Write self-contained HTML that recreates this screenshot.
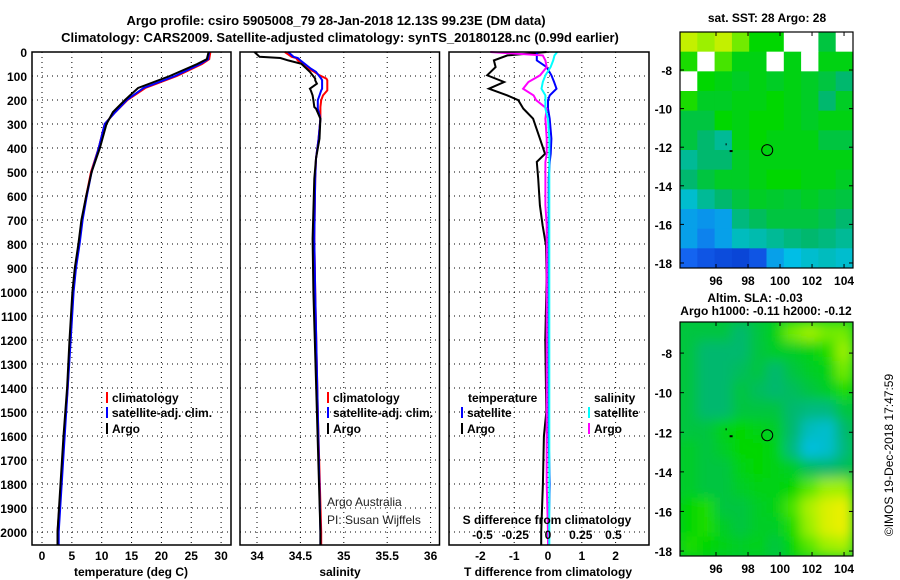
<!DOCTYPE html>
<html><head><meta charset="utf-8"><style>
body{margin:0;background:#fff;}
svg{display:block;font-family:"Liberation Sans",Arial,sans-serif;}
</style></head><body>
<svg id="c" width="900" height="580" viewBox="0 0 900 580"></svg>
<script>
// ---------- data ----------
const depthTicks=[0,100,200,300,400,500,600,700,800,900,1000,1100,1200,1300,1400,1500,1600,1700,1800,1900,2000];
const tempTicks=[0,5,10,15,20,25,30];
const salTicks=[34,34.5,35,35.5,36];
const salTickLabels=["34","34.5","35","35.5","36"];
const tdTicks=[-2,-1,0,1,2];
const sdTicks=[-0.5,-0.25,0,0.25,0.5];
const sdTickLabels=["-0.5","-0.25","0","0.25","0.5"];

const tDepth=[0,30,50,100,150,200,250,300,400,500,600,700,800,900,1000,1200,1400,1600,1800,2000,2055];
const tArgo=[27.9,27.6,26,21.4,16.1,13.9,11.9,10.8,9.7,8.3,7.4,6.6,6.1,5.5,5.1,4.6,4.2,3.6,3.1,2.6,2.6];
const tClim=[28.2,28.0,26.8,22.6,17.3,14.3,12.3,10.5,9.5,8.2,7.4,6.7,6.2,5.6,5.2,4.7,4.3,3.7,3.2,2.6,2.6];
const tSat =[28.0,27.8,26.5,22.3,17.0,14.2,12.3,10.5,9.5,8.3,7.5,6.8,6.3,5.7,5.3,4.8,4.3,3.8,3.3,2.8,2.8];

const sDepth=[0,20,25,35,49,69,83,97,111,118,132,153,160,181,201,229,236,278,361,444,528,778,1000,1500,2000,2055];
const sArgo=[33.97,34.03,34.27,34.36,34.51,34.57,34.61,34.64,34.67,34.67,34.69,34.61,34.62,34.64,34.65,34.66,34.68,34.73,34.72,34.68,34.66,34.64,34.65,34.69,34.73,34.73];
const sClim=[34.32,34.40,34.45,34.47,34.52,34.59,34.66,34.72,34.80,34.81,34.81,34.81,34.81,34.76,34.74,34.73,34.73,34.73,34.71,34.68,34.67,34.66,34.67,34.70,34.74,34.74];
const sSat =[34.36,34.42,34.47,34.50,34.55,34.62,34.68,34.71,34.74,34.75,34.75,34.75,34.74,34.72,34.70,34.70,34.70,34.73,34.71,34.68,34.67,34.66,34.67,34.70,34.73,34.73];

const dDepth=[0,14,35,63,97,125,153,181,201,236,278,361,424,458,528,639,722,806,944,1200,1500,1600,1800,2000,2055];
const dtArgo=[-0.04,-1.2,-1.6,-1.55,-1.8,-1.3,-1.75,-1.2,-0.88,-0.73,-0.44,-0.24,-0.09,-0.33,-0.29,-0.24,-0.16,-0.06,-0.04,-0.08,-0.05,-0.12,-0.15,-0.2,-0.2];
const dtSat=[-0.33,-0.33,-0.33,-0.04,0.1,0.18,0.25,0.05,0.0,0.0,0.05,0.1,0.08,0.05,0.02,0.02,0.02,0.02,0.02,0.02,0.02,0.02,0.05,0.02,0.02];
const dsArgo=[-0.44,-0.04,-0.02,-0.01,-0.06,-0.15,-0.19,-0.11,-0.09,-0.01,-0.02,-0.01,-0.01,-0.02,-0.02,-0.02,-0.01,-0.01,-0.01,-0.01,-0.01,-0.01,-0.01,0,0];
const dsSat=[0.07,0.05,0.04,0.02,-0.02,-0.04,-0.05,-0.02,-0.02,-0.02,0,0.01,0.01,0.01,0.01,0.01,0.01,0.01,0.01,0.01,0.01,0.01,0.01,0.01,0.01];

const sstGrid=[
[0.85,0.8,0.85,0.75,0.62,0.62,-1,-1,0.55,-1],
[0.65,-1,0.7,0.6,0.6,-1,0.6,-1,0.6,0.6],
[-1,0.62,0.6,0.58,0.6,0.58,0.6,0.58,0.55,0.5],
[0.65,0.58,0.58,0.6,0.6,0.62,0.6,0.58,0.5,0.58],
[0.55,0.55,0.62,0.6,0.62,0.62,0.6,0.58,0.6,0.6],
[0.55,0.5,0.45,0.6,0.62,0.6,0.6,0.6,0.55,0.55],
[0.45,0.5,0.5,0.58,0.6,0.6,0.6,0.6,0.6,0.6],
[0.5,0.55,0.58,0.58,0.6,0.62,0.62,0.6,0.6,0.58],
[0.38,0.45,0.5,0.55,0.58,0.57,0.56,0.58,0.56,0.55],
[0.3,0.28,0.3,0.48,0.52,0.55,0.55,0.55,0.53,0.5],
[0.3,0.25,0.3,0.4,0.42,0.45,0.48,0.5,0.48,0.45],
[0.2,0.15,0.12,0.1,0.15,0.3,0.35,0.38,0.4,0.38]];
const slaGrid=[
[0.55,0.55,0.55,0.5,0.55,0.6,0.75,0.8,0.75,0.75],
[0.55,0.5,0.5,0.5,0.55,0.58,0.58,0.6,0.65,0.8],
[0.55,0.5,0.5,0.52,0.55,0.5,0.55,0.58,0.6,0.75],
[0.55,0.5,0.5,0.55,0.52,0.5,0.52,0.55,0.58,0.65],
[0.55,0.5,0.5,0.55,0.55,0.55,0.5,0.48,0.48,0.55],
[0.55,0.55,0.6,0.62,0.6,0.58,0.5,0.4,0.38,0.5],
[0.58,0.55,0.58,0.62,0.62,0.6,0.48,0.36,0.38,0.48],
[0.58,0.55,0.55,0.6,0.62,0.6,0.58,0.52,0.5,0.52],
[0.58,0.55,0.55,0.58,0.6,0.6,0.62,0.72,0.8,0.8],
[0.62,0.65,0.55,0.55,0.58,0.6,0.7,0.82,0.88,0.9],
[0.62,0.65,0.58,0.55,0.58,0.58,0.65,0.8,0.88,0.9],
[0.65,0.62,0.6,0.58,0.6,0.55,0.62,0.72,0.8,0.82]];
const lonTicks=[96,98,100,102,104];
const latTicks=[-8,-10,-12,-14,-16,-18];
const argoPos=[99.2,-12.15];

// ---------- helpers ----------
const NS="http://www.w3.org/2000/svg";
const svg=document.getElementById('c');
function mk(tag,at,parent){const e=document.createElementNS(NS,tag);for(const k in at)e.setAttribute(k,at[k]);(parent||svg).appendChild(e);return e;}
function txt(x,y,s,size,anchor,bold,fill){const t=mk('text',{x:x,y:y,'font-size':size,'text-anchor':anchor||'start','font-weight':bold?'bold':'normal',fill:fill||'#000'});t.textContent=s;return t;}

const Y0=52,Y1=545;
const yD=d=>Y0+d*0.24;
const xT=v=>42+v*5.97;
const xS=v=>257+(v-34)*86.8;
const xDT=v=>548+v*33.8;
const xDS=v=>548+v*131;

const panels=[[32,231,'temperature-panel'],[240,439.5,'salinity-panel'],[449,649,'difference-panel']];

function grid(px0,px1,xs){
  depthTicks.forEach(d=>{const l=mk('line',{x1:px0,x2:px1,y1:yD(d),y2:yD(d),stroke:'#000','stroke-width':1,'stroke-dasharray':'1,4'});
    
    });
  xs.forEach(x=>{const l=mk('line',{x1:x,x2:x,y1:Y0,y2:Y1,stroke:'#000','stroke-width':1,'stroke-dasharray':'1,4'});
    
    });
}
grid(32,231,tempTicks.map(xT));
grid(240,439.5,salTicks.map(xS));
grid(449,649,tdTicks.map(xDT));

function line(depths,vals,fx,color,name){
  let d='';
  depths.forEach((dp,i)=>{d+=(i?'L':'M')+fx(vals[i]).toFixed(1)+','+yD(dp).toFixed(1);});
  const p=mk('path',{d:d,fill:'none',stroke:color,'stroke-width':2});
  
  
}
line(tDepth,tClim,xT,'#f00','temp-climatology-line');
line(tDepth,tSat,xT,'#00f','temp-satellite-line');
line(tDepth,tArgo,xT,'#000','temp-argo-line');
line(sDepth,sClim,xS,'#f00','sal-climatology-line');
line(sDepth,sSat,xS,'#00f','sal-satellite-line');
line(sDepth,sArgo,xS,'#000','sal-argo-line');
line(dDepth,dtArgo,xDT,'#000','tdiff-argo-line');
line(dDepth,dtSat,xDT,'#00f','tdiff-satellite-line');
line(dDepth,dsArgo,xDS,'#f0f','sdiff-argo-line');
line(dDepth,dsSat,xDS,'#0ff','sdiff-satellite-line');

panels.forEach(p=>{const r=mk('rect',{x:p[0],y:Y0,width:p[1]-p[0],height:Y1-Y0,fill:'none',stroke:'#000','stroke-width':1.5});
  
  });

depthTicks.forEach(d=>{const t=txt(27,yD(d)+5,String(d),12,'end',true);
  
  });
tempTicks.forEach(v=>{const t=txt(xT(v),560,String(v),12,'middle',true);
  
  });
salTicks.forEach((v,i)=>{const t=txt(xS(v),560,salTickLabels[i],12,'middle',true);
  
  });
tdTicks.forEach(v=>{const t=txt(xDT(v),560,String(v),12,'middle',true);
  
  });
sdTicks.forEach((v,i)=>{const t=txt(xDS(v),539,sdTickLabels[i],12,'middle',true);
  
  });

[[131,576,'temperature (deg C)','x-axis-title-temperature'],[340,576,'salinity','x-axis-title-salinity'],[548,576,'T difference from climatology','x-axis-title-tdiff'],[547,524,'S difference from climatology','sdiff-axis-title']].forEach(a=>{
  const t=txt(a[0],a[1],a[2],12,'middle',true);
  
  });

const t1=txt(336,25,'Argo profile: csiro 5905008_79 28-Jan-2018 12.13S 99.23E (DM data)',13,'middle',true);


const t2=txt(340,42,'Climatology: CARS2009. Satellite-adjusted climatology: synTS_20180128.nc (0.99d earlier)',13,'middle',true);



function leg(x,y,color,label,name){
  mk('rect',{x:x,y:y-10,width:2,height:11,fill:color});
  const t=txt(x+6,y,label,12,'start',true);
  
  
}
leg(106,402,'#f00','climatology','legend-climatology');
leg(106,417,'#00f','satellite-adj. clim.','legend-satellite');
leg(106,433,'#000','Argo','legend-argo');
leg(327,402,'#f00','climatology','legend-sal-climatology');
leg(327,417,'#00f','satellite-adj. clim.','legend-sal-satellite');
leg(327,433,'#000','Argo','legend-sal-argo');
const lt=txt(468,402,'temperature',12,'start',true);


const ls=txt(594,402,'salinity',12,'start',true);


leg(461,417,'#00f','satellite','legend-t-satellite');
leg(461,433,'#000','Argo','legend-t-argo');
leg(588,417,'#0ff','satellite','legend-s-satellite');
leg(588,433,'#f0f','Argo','legend-s-argo');
const aa=txt(327,506,'Argo Australia',12,'start',false,'#222');


const pi=txt(327,524,'PI: Susan Wijffels',12,'start',false,'#222');



// ---------- maps ----------
function cmap(v){
  const st=[[0,[0,40,190]],[0.2,[20,100,240]],[0.35,[0,190,230]],[0.5,[0,184,110]],[0.62,[0,215,0]],[0.78,[140,240,0]],[0.9,[235,240,0]],[1,[255,200,0]]];
  for(let i=1;i<st.length;i++){if(v<=st[i][0]){const a=st[i-1],b=st[i];const f=(v-a[0])/(b[0]-a[0]);
    const c=a[1].map((q,k)=>Math.round(q+(b[1][k]-q)*f));return 'rgb('+c.join(',')+')';}}
  return 'rgb(255,200,0)';
}
function map(x0,x1,y0,y1,latTop,latBot,data,smooth,name){
  const lon0=93.75,lon1=104.56;
  const lx=l=>x0+(l-lon0)/(lon1-lon0)*(x1-x0);
  const ly=l=>y0+(latTop-l)/(latTop-latBot)*(y1-y0);
  const g=mk('g',{});
  
  
  const id='cl'+name;
  const cp=mk('clipPath',{id:id},g);mk('rect',{x:x0,y:y0,width:x1-x0,height:y1-y0},cp);
  const inner=mk('g',{'clip-path':'url(#'+id+')'},g);
  mk('rect',{x:x0,y:y0,width:x1-x0,height:y1-y0,fill:smooth?cmap(0.56):'#fff'},inner);
  const cells=mk('g',smooth?{filter:'url(#blur)'}:{},inner);
  const nr=data.length,nc=data[0].length,cw=(x1-x0)/nc,ch=(y1-y0)/nr;
  data.forEach((row,r)=>row.forEach((v,c)=>{
    const rc=mk('rect',{x:x0+c*cw,y:y0+r*ch,width:cw+0.5,height:ch+0.5,fill:v<0?'#fff':cmap(v)},cells);
    
    
  }));
  mk('rect',{x:x0,y:y0,width:x1-x0,height:y1-y0,fill:'none',stroke:'#000','stroke-width':1.2},g);
  lonTicks.forEach(l=>{mk('line',{x1:lx(l),x2:lx(l),y1:y1,y2:y1-4,stroke:'#000'},g);mk('line',{x1:lx(l),x2:lx(l),y1:y0,y2:y0+4,stroke:'#000'},g);
    const t=txt(lx(l),y1+17,String(l),12,'middle',true);});
  latTicks.forEach(l=>{mk('line',{x1:x0,x2:x0+4,y1:ly(l),y2:ly(l),stroke:'#000'},g);mk('line',{x1:x1,x2:x1-4,y1:ly(l),y2:ly(l),stroke:'#000'},g);
    const t=txt(x0-8,ly(l)+5,String(l),12,'end',true);});
  const c=mk('circle',{cx:lx(argoPos[0]),cy:ly(argoPos[1]),r:5.5,fill:'none',stroke:'#000','stroke-width':1},g);
  
  
  mk('rect',{x:lx(96.85),y:ly(-12.2)-1,width:3,height:2,fill:'#000'},g);
  mk('rect',{x:lx(96.6),y:ly(-11.85)-1,width:1,height:2,fill:'#000'},g);
}
const defs=mk('defs',{});
const f=mk('filter',{id:'blur',x:'-10%',y:'-10%',width:'120%',height:'120%'},defs);
mk('feGaussianBlur',{stdDeviation:6},f);
map(680,853,32,268,-6.03,-18.26,sstGrid,false,'sst-map');
map(680,853,322,556,-6.43,-18.25,slaGrid,true,'sla-map');
const m1=txt(767,22,'sat. SST: 28 Argo: 28',12,'middle',true);


const m2=txt(755,302,'Altim. SLA: -0.03',12,'middle',true);


const m3=txt(766,315,'Argo h1000: -0.11 h2000: -0.12',12,'middle',true);


const im=txt(0,0,'©IMOS 19-Dec-2018 17:47:59',12,'middle',false);
im.setAttribute('transform','translate(893,455) rotate(-90)');


</script>
</body></html>
